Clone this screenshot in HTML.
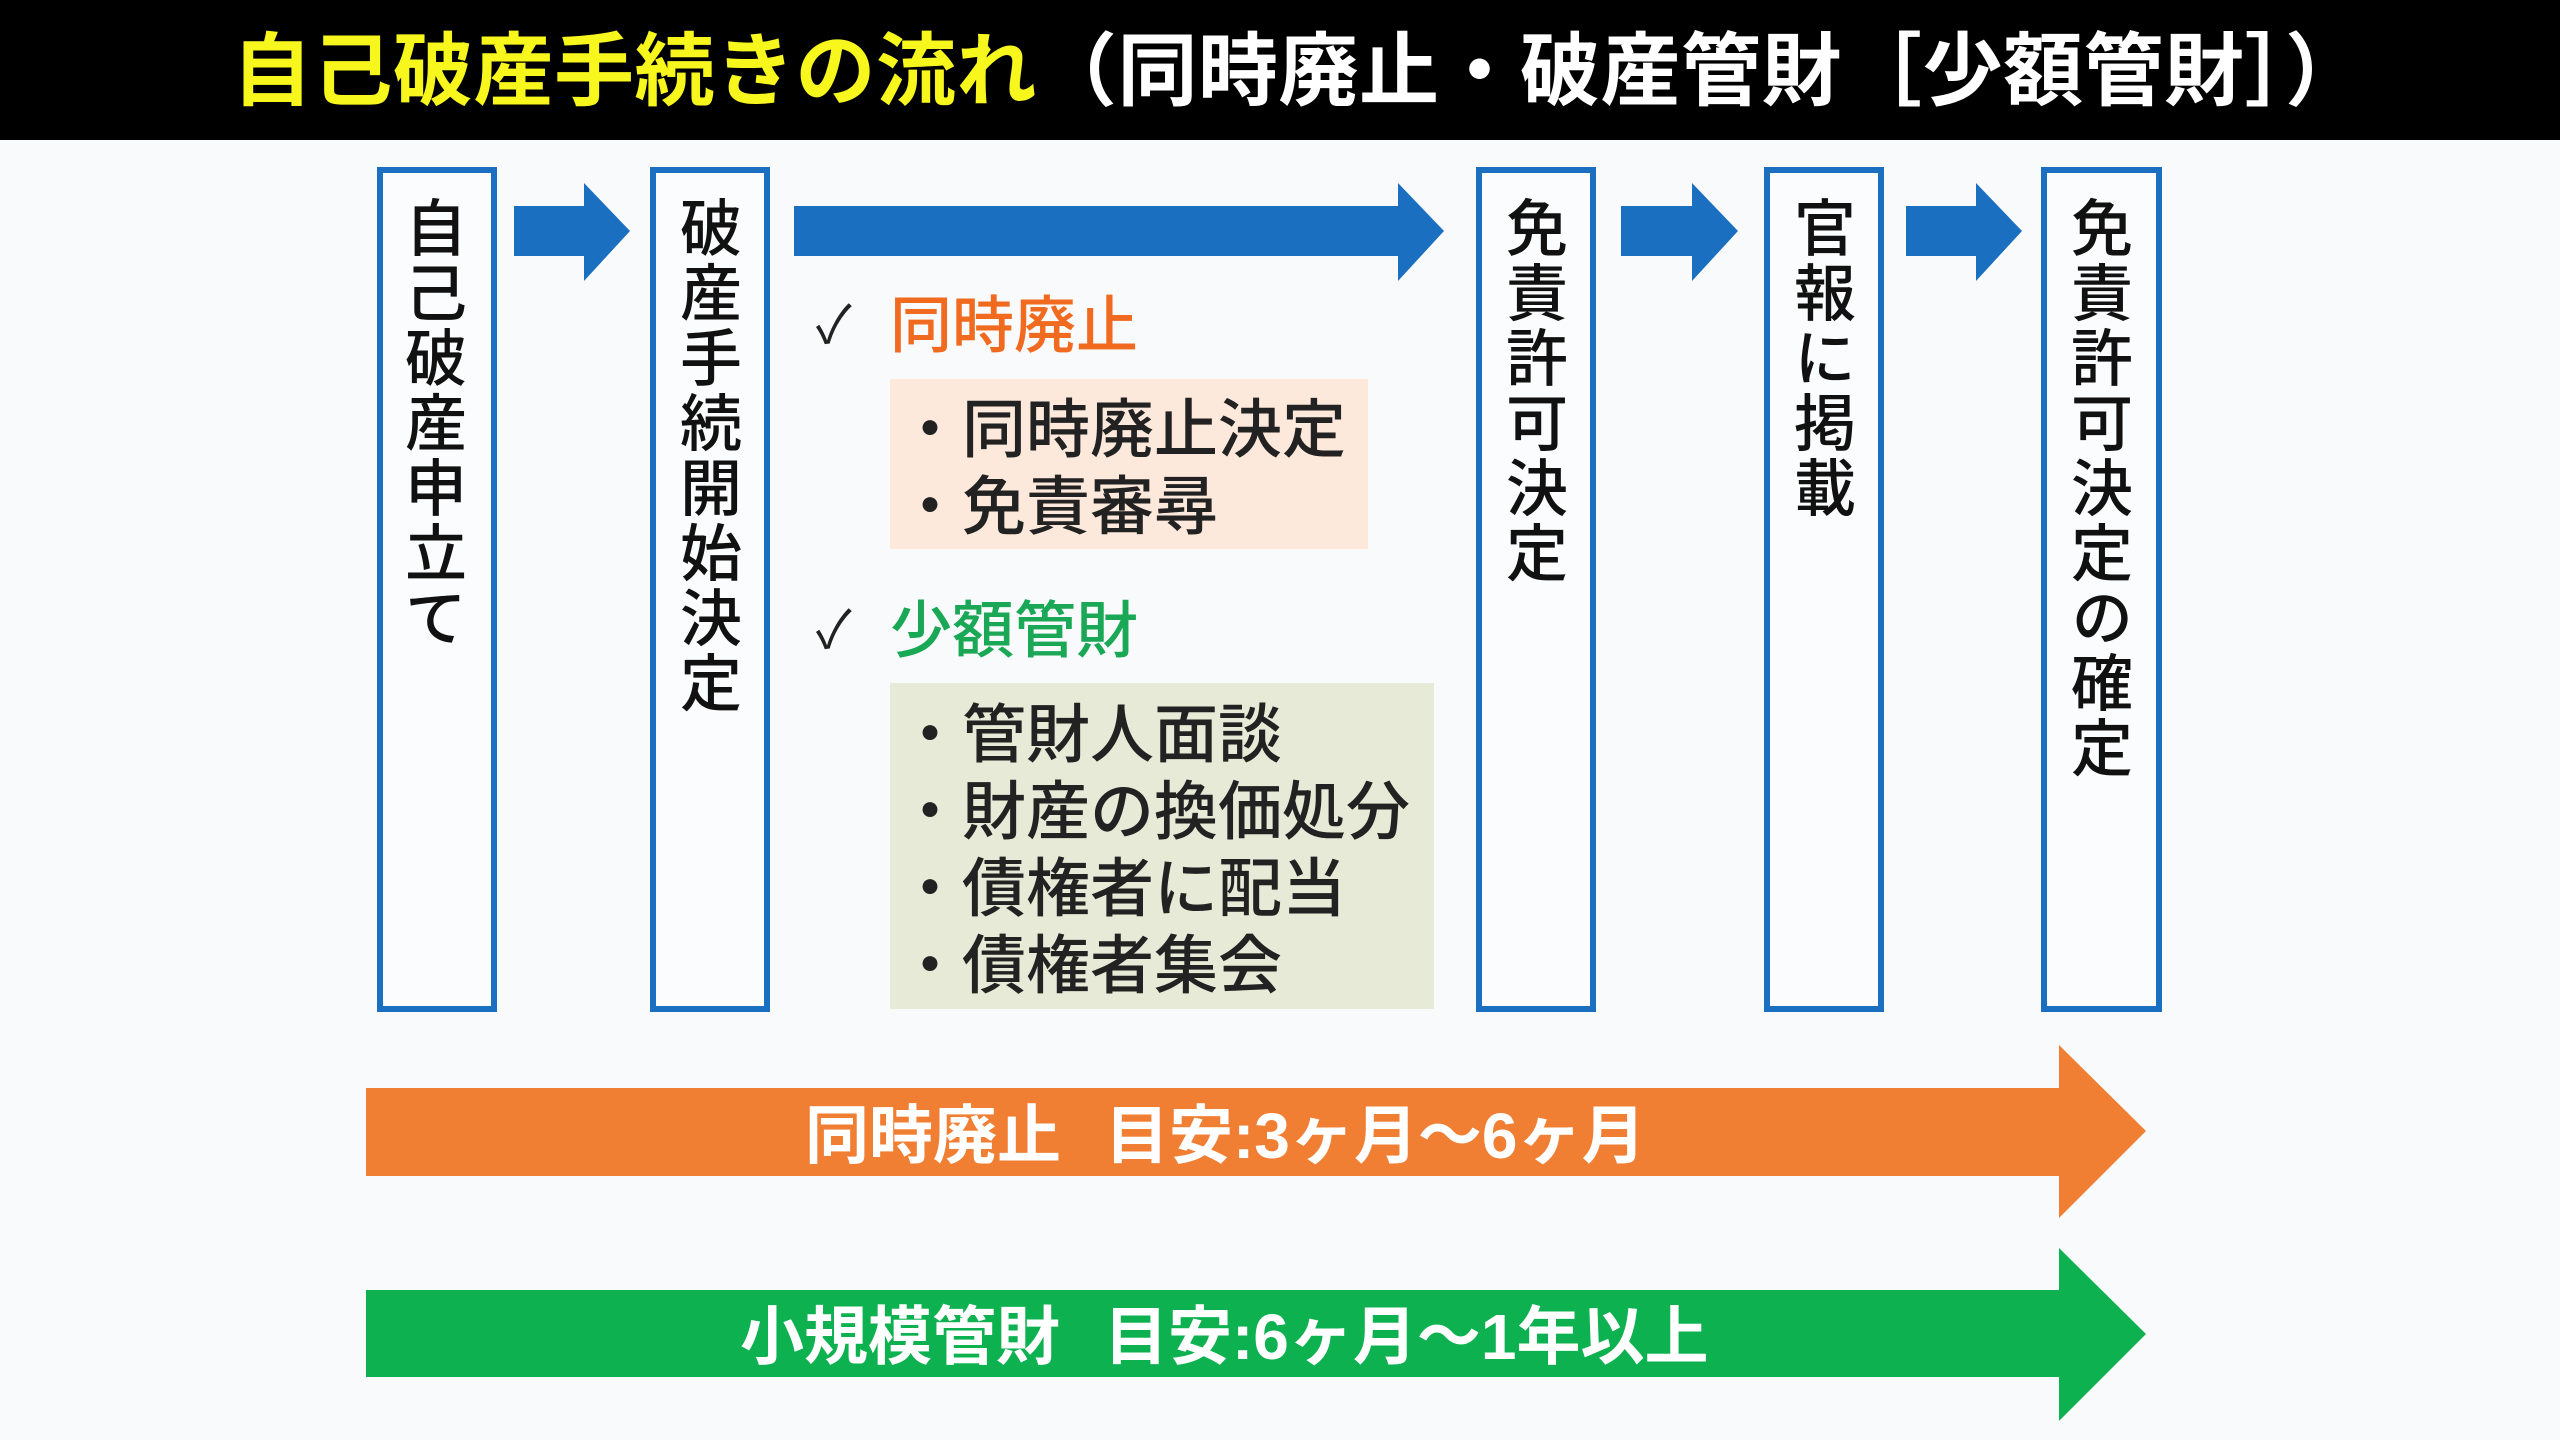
<!DOCTYPE html>
<html><head><meta charset="utf-8"><style>
*{margin:0;padding:0;box-sizing:border-box}
body{width:2560px;height:1440px;background:#f9fafb;position:relative;overflow:hidden;font-family:"Liberation Sans","Noto Sans CJK JP",sans-serif}
.hdr{position:absolute;left:0;top:0;width:2560px;height:140px;background:#000}
.title{position:absolute;left:232px;top:22px;font-size:80px;font-weight:bold;color:#fff;white-space:nowrap;line-height:100px;letter-spacing:0.5px}
.title .y{color:#f7f71e}
.box{position:absolute;top:167px;height:845px;border:6px solid #1a6fc0;background:#fbfcfd}
.vt{position:absolute;top:196px;writing-mode:vertical-rl;font-size:62px;line-height:62px;letter-spacing:3px;color:#111;white-space:nowrap;font-weight:500}
.t{position:absolute;white-space:nowrap;line-height:1}
svg{position:absolute;left:0;top:0}
</style></head><body>
<div class="hdr"></div>
<div class="title"><span class="y">自己破産手続きの流れ</span>（同時廃止・破産管財［少額管財］）</div>

<div class="box" style="left:377px;width:120px"></div>
<div class="box" style="left:650px;width:120px"></div>
<div class="box" style="left:1476px;width:120px"></div>
<div class="box" style="left:1764px;width:120px"></div>
<div class="box" style="left:2041px;width:121px"></div>

<div class="vt" style="left:406px;margin-left:-8px">自己破産申立て</div>
<div class="vt" style="left:679px;margin-left:-6px">破産手続開始決定</div>
<div class="vt" style="left:1505px;margin-left:-6px">免責許可決定</div>
<div class="vt" style="left:1793px;margin-left:-6px">官報に掲載</div>
<div class="vt" style="left:2071px;margin-left:-7px">免責許可決定の確定</div>

<svg width="2560" height="1440">
<g fill="#1a6fc0">
<polygon points="514,206 584,206 584,183 630,231 584,281 584,256 514,256"/>
<polygon points="794,206 1398,206 1398,183 1444,231 1398,281 1398,256 794,256"/>
<polygon points="1621,206 1692,206 1692,183 1738,231 1692,281 1692,256 1621,256"/>
<polygon points="1906,206 1976,206 1976,183 2022,231 1976,281 1976,256 1906,256"/>
</g>
<polygon fill="#f07f34" points="366,1088 2059,1088 2059,1045 2146,1131 2059,1218 2059,1176 366,1176"/>
<polygon fill="#0db14f" points="366,1290 2059,1290 2059,1248 2146,1334 2059,1421 2059,1377 366,1377"/>
<rect x="890" y="379" width="478" height="170" fill="#fde9dc"/>
<rect x="890" y="683" width="544" height="326" fill="#e6ead6"/>
</svg>

<div class="t" style="left:816px;top:300px;font-size:52px;color:#222">✓</div>
<div class="t" style="left:890px;top:296px;font-size:62px;color:#f06a20;font-weight:500">同時廃止</div>
<div class="t" style="left:898px;top:398px;font-size:64px;color:#222;font-weight:500">・同時廃止決定</div>
<div class="t" style="left:898px;top:475px;font-size:64px;color:#222;font-weight:500">・免責審尋</div>

<div class="t" style="left:816px;top:605px;font-size:52px;color:#222">✓</div>
<div class="t" style="left:890px;top:601px;font-size:62px;color:#1aa857;font-weight:500">少額管財</div>
<div class="t" style="left:898px;top:703px;font-size:64px;color:#222;font-weight:500">・管財人面談</div>
<div class="t" style="left:898px;top:780px;font-size:64px;color:#222;font-weight:500">・財産の換価処分</div>
<div class="t" style="left:898px;top:857px;font-size:64px;color:#222;font-weight:500">・債権者に配当</div>
<div class="t" style="left:898px;top:934px;font-size:64px;color:#222;font-weight:500">・債権者集会</div>

<div class="t" style="left:805px;top:1104px;font-size:64px;color:#fff;font-weight:bold">同時廃止<span style="display:inline-block;width:44px"></span>目安:3ヶ月～6ヶ月</div>
<div class="t" style="left:740px;top:1305px;font-size:64px;color:#fff;font-weight:bold">小規模管財<span style="display:inline-block;width:44px"></span>目安:6ヶ月～1年以上</div>
</body></html>
